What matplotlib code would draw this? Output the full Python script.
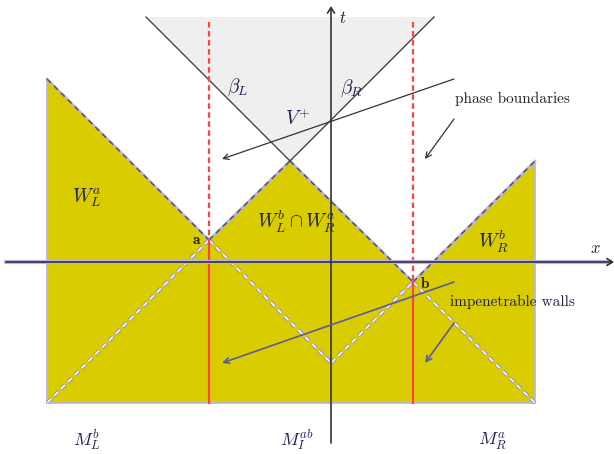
import matplotlib
matplotlib.use('Agg')
import matplotlib.pyplot as plt
from matplotlib.patches import Polygon, FancyArrowPatch

plt.rcParams['mathtext.fontset'] = 'cm'
plt.rcParams['lines.scale_dashes'] = False

# ---- geometry of the diagram (data units, origin at the axes crossing) ----
point_a = (-122, 22)
point_b = (82, -20)
peak = (-41, 101)
bottom_v = (0, -101)
left_x = -284
right_x = 204
left_top_y = 183
right_top_y = 101
bottom_y = -141
gray_top = 245
gray_left = -185
gray_right = 103
wall_top = 240
x_axis_range = (-325, 283)
t_axis_range = (-181, 256)

phase_arrows = [((123, 183), (-109, 103)), ((123, 143), (94, 103))]
wall_arrows = [((123, -20), (-109, -101)), ((123, -61), (94, -101))]

labels_math = [
    (r'$\beta_L$', (-93, 175)),
    (r'$\beta_R$', (21, 174)),
    (r'$V^{+}$', (-33, 143)),
    (r'$W_L^a$', (-244, 64)),
    (r'$W_L^b\cap W_R^a$', (-34, 40)),
    (r'$W_R^b$', (162, 20)),
]
labels_bottom = [
    (r'$M_L^b$', (-244, -178)),
    (r'$M_I^{ab}$', (-34, -178)),
    (r'$M_R^a$', (161, -179)),
]

YELLOW = '#d9cc00'
LAV = '#b9b3e6'
GRAYFILL = '#efefef'
RED = '#ff4444'
DARK = '#333333'
NAVY = '#1f1f52'
SLATE = '#5c5c9c'

fig = plt.figure(figsize=(6.14, 4.54), dpi=100)
ax = fig.add_axes([0, 0, 1, 1])
ax.set_xlim(-331, 283)
ax.set_ylim(-192, 262)
ax.axis('off')

# gray light cone region
ax.add_patch(Polygon([(gray_left, gray_top), (gray_right, gray_top), peak],
                     closed=True, facecolor=GRAYFILL, edgecolor='none', zorder=1))

# yellow region
yellow_pts = [(left_x, left_top_y), point_a, peak, point_b, (right_x, right_top_y),
              (right_x, bottom_y), (left_x, bottom_y)]
ax.add_patch(Polygon(yellow_pts, closed=True, facecolor=YELLOW, edgecolor=LAV,
                     linewidth=1.2, zorder=2))

# boundary dashed edges (yellow / white)
top_edges = [((left_x, left_top_y), point_a), (point_a, peak), (peak, point_b),
             (point_b, (right_x, right_top_y))]
for p, q in top_edges:
    ax.plot([p[0], q[0]], [p[1], q[1]], color=LAV, lw=1.8, zorder=3)
    ax.plot([p[0], q[0]], [p[1], q[1]], color='#555555', lw=1.1,
            linestyle=(0, (4, 3)), zorder=4)

# inner dashed lines (inside yellow)
inner_edges = [(point_a, (left_x, bottom_y)), (point_a, bottom_v), (bottom_v, point_b),
               (point_b, (right_x, bottom_y))]
for p, q in inner_edges:
    ax.plot([p[0], q[0]], [p[1], q[1]], color='#8a85c2', lw=2.6,
            linestyle=(0, (4.4, 2.6)), zorder=3)
    ax.plot([p[0], q[0]], [p[1], q[1]], color='#f4f3fc', lw=1.4,
            linestyle=(6.8, (4, 3)), zorder=4)

# beta lines
ax.plot([gray_left, peak[0]], [gray_top, peak[1]], color='#444444', lw=1.0, zorder=5)
ax.plot([peak[0], gray_right], [peak[1], gray_top], color='#444444', lw=1.0, zorder=5)

# red walls
for p in (point_a, point_b):
    ax.plot([p[0], p[0]], [wall_top, p[1]], color=RED, lw=1.6,
            linestyle=(0, (4, 2.5)), zorder=5)
    ax.plot([p[0], p[0]], [p[1], bottom_y], color=RED, lw=1.6, zorder=5)

# axes
ax.plot([x_axis_range[0], x_axis_range[1] - 4], [0, 0], color=LAV, lw=3.0, zorder=5)
ax.add_patch(FancyArrowPatch((x_axis_range[0], 0), (x_axis_range[1], 0),
                             arrowstyle='->,head_length=4,head_width=2.5',
                             color=DARK, lw=1.2, zorder=6, shrinkA=0, shrinkB=0))
ax.add_patch(FancyArrowPatch((0, t_axis_range[0]), (0, t_axis_range[1]),
                             arrowstyle='->,head_length=4,head_width=2.5',
                             color=DARK, lw=1.2, zorder=6, shrinkA=0, shrinkB=0))

# annotation arrows
for s, e in phase_arrows:
    ax.add_patch(FancyArrowPatch(s, e, arrowstyle='->,head_length=4,head_width=2',
                                 color=DARK, lw=0.9, zorder=7, shrinkA=0, shrinkB=0))
for s, e in wall_arrows:
    ax.add_patch(FancyArrowPatch(s, e, arrowstyle='->,head_length=4,head_width=2',
                                 color=SLATE, lw=1.2, zorder=7, shrinkA=0, shrinkB=0))

# texts
for txt, (x, y) in labels_math:
    ax.text(x, y, txt, fontsize=14, color=NAVY, ha='center', va='center', zorder=8)
for txt, (x, y) in labels_bottom:
    ax.text(x, y, txt, fontsize=13, color=NAVY, ha='center', va='center', zorder=8)

ax.text(12, 244, r'$t$', fontsize=12, color='#222222', ha='center', va='center')
ax.text(264, 14, r'$x$', fontsize=12, color='#222222', ha='center', va='center')
ax.text(-134, 22, r'$\mathbf{a}$', fontsize=11, color='#222222', ha='center', va='center', zorder=8)
ax.text(94, -21, r'$\mathbf{b}$', fontsize=11, color='#222222', ha='center', va='center', zorder=8)
ax.text(124, 163, 'phase boundaries', family='cmr10', fontsize=11, color='#222222',
        ha='left', va='center')
ax.text(119, -40, 'impenetrable walls', family='cmr10', fontsize=11, color=NAVY,
        ha='left', va='center', zorder=8)

fig.savefig('out.png', dpi=100)
